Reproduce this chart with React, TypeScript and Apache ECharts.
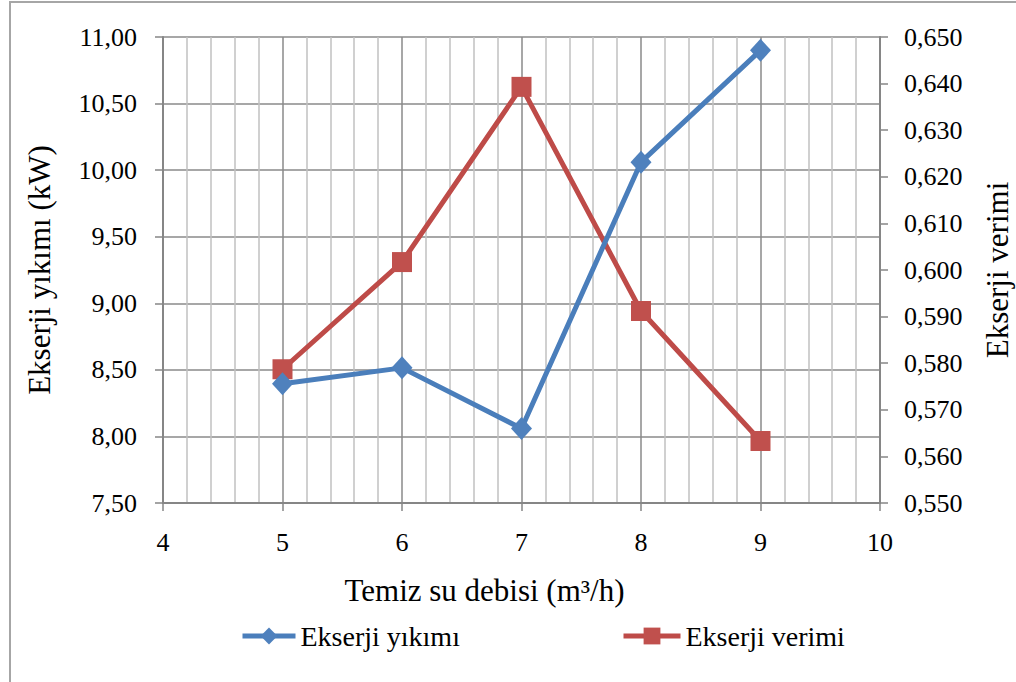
import React, { useEffect, useRef } from 'react';
import * as echarts from 'echarts';

const flowRates = [5, 6, 7, 8, 9];
const exergyDestruction = [8.395, 8.515, 8.06, 10.06, 10.9];
const exergyEfficiency = [0.5787, 0.6017, 0.6393, 0.5912, 0.5633];
const seriesNames = ['Ekserji yıkımı', 'Ekserji verimi'];
const xAxisTitle = 'Temiz su debisi (m³/h)';
const leftAxisTitle = 'Ekserji yıkımı (kW)';
const rightAxisTitle = 'Ekserji verimi';

const FONT = 'Liberation Serif, serif';

export default function App() {
  const ref = useRef<HTMLDivElement>(null);
  useEffect(() => {
    document.body.style.margin = '0';
    const chart = echarts.init(ref.current!, null, { renderer: 'svg' });
    const fmt2 = (v: number) => v.toFixed(2).replace('.', ',');
    const fmt3 = (v: number) => v.toFixed(3).replace('.', ',');
    const axisLine = { show: true, lineStyle: { color: '#868686', width: 2 } };
    const tick = { show: true, length: 8, lineStyle: { color: '#868686', width: 1.5 } };
    const legendText = { fontFamily: FONT, fontSize: 28, color: '#000' };
    chart.setOption({
      animation: false,
      backgroundColor: '#ffffff',
      textStyle: { fontFamily: FONT },
      graphic: [
        {
          type: 'rect',
          shape: { x: 10, y: 2, width: 1100, height: 1000 },
          style: { fill: 'none', stroke: '#a6a6a6', lineWidth: 2 },
          silent: true,
        },
      ],
      grid: {
        left: 163,
        right: 136,
        top: 37,
        bottom: 179,
        containLabel: false,
        outerBoundsMode: 'none',
      },
      legend: [
        {
          data: [seriesNames[0]],
          left: 240,
          top: 622,
          padding: 0,
          itemWidth: 53,
          itemHeight: 21,
          itemGap: 5,
          lineStyle: { width: 5 },
          textStyle: legendText,
        },
        {
          data: [seriesNames[1]],
          left: 621,
          top: 622,
          padding: 0,
          itemWidth: 57,
          itemHeight: 21,
          itemGap: 5,
          lineStyle: { width: 5 },
          textStyle: legendText,
        },
      ],
      xAxis: {
        type: 'value',
        min: 4,
        max: 10,
        interval: 1,
        name: xAxisTitle,
        nameLocation: 'middle',
        nameGap: 72,
        nameTextStyle: { fontFamily: FONT, fontSize: 31, color: '#000', padding: [0, 74, 0, 0] },
        axisLine,
        axisTick: tick,
        axisLabel: { fontFamily: FONT, fontSize: 26, color: '#000', margin: 26 },
        splitLine: { show: true, lineStyle: { color: '#8a8a8a', width: 1.5 } },
        minorTick: { show: false, splitNumber: 5 },
        minorSplitLine: { show: true, lineStyle: { color: '#c0c0c0', width: 1.5 } },
      },
      yAxis: [
        {
          type: 'value',
          min: 7.5,
          max: 11,
          interval: 0.5,
          name: leftAxisTitle,
          nameLocation: 'middle',
          nameGap: 108,
          nameRotate: 90,
          nameTextStyle: { fontFamily: FONT, fontSize: 31, color: '#000' },
          axisLine,
          axisTick: tick,
          axisLabel: { fontFamily: FONT, fontSize: 26, color: '#000', margin: 26, formatter: fmt2 },
          splitLine: { show: true, lineStyle: { color: '#8a8a8a', width: 1.5 } },
        },
        {
          type: 'value',
          position: 'right',
          min: 0.55,
          max: 0.65,
          interval: 0.01,
          name: rightAxisTitle,
          nameLocation: 'middle',
          nameGap: 102,
          nameRotate: 90,
          nameTextStyle: { fontFamily: FONT, fontSize: 31, color: '#000' },
          axisLine,
          axisTick: tick,
          axisLabel: { fontFamily: FONT, fontSize: 26, color: '#000', margin: 24, formatter: fmt3 },
          splitLine: { show: false },
        },
      ],
      series: [
        {
          name: seriesNames[0],
          type: 'line',
          yAxisIndex: 0,
          data: flowRates.map((x, i) => [x, exergyDestruction[i]]),
          symbol: 'diamond',
          symbolSize: [21, 23],
          lineStyle: { color: '#4A7EBB', width: 5 },
          itemStyle: { color: '#4F81BD' },
          z: 3,
        },
        {
          name: seriesNames[1],
          type: 'line',
          yAxisIndex: 1,
          data: flowRates.map((x, i) => [x, exergyEfficiency[i]]),
          symbol: 'rect',
          symbolSize: 20,
          lineStyle: { color: '#BE4B48', width: 5 },
          itemStyle: { color: '#C0504D' },
          z: 2,
        },
      ],
    });
    return () => chart.dispose();
  }, []);
  return <div ref={ref} style={{ width: 1016, height: 682 }} />;
}
